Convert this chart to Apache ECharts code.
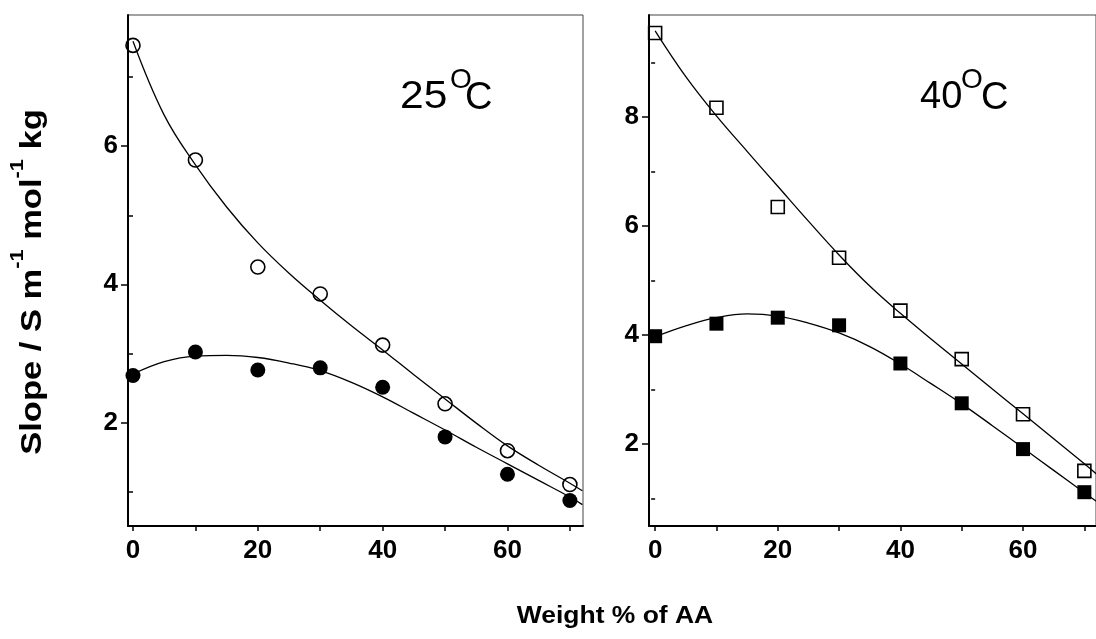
<!DOCTYPE html>
<html>
<head>
<meta charset="utf-8">
<script src="https://cdn.jsdelivr.net/npm/echarts@6/dist/echarts.min.js"></script>
<style>
html,body{margin:0;padding:0;background:#fff;}
#c{width:1096px;height:639px;}
</style>
</head>
<body>
<div id="c"></div>
<script>
// ---- data ----
var weightPct = [0, 10, 20, 30, 40, 50, 60, 70];
// 25 °C
var open25 = [7.46, 5.80, 4.25, 3.86, 3.12, 2.27, 1.59, 1.10];
var filled25 = [2.68, 3.02, 2.76, 2.79, 2.51, 1.79, 1.25, 0.87];
// fitted curves, read at x = 0, 5, ..., 70, 72
var fitX = [0, 5, 10, 15, 20, 25, 30, 35, 40, 45, 50, 55, 60, 65, 70, 72];
var fitOpen25 = [7.52, 6.45, 5.73, 5.12, 4.60, 4.16, 3.77, 3.40, 3.05, 2.69, 2.34, 1.99, 1.66, 1.38, 1.12, 1.01];
var fitFilled25 = [2.70, 2.88, 2.96, 2.97, 2.94, 2.86, 2.75, 2.58, 2.37, 2.13, 1.89, 1.64, 1.40, 1.16, 0.92, 0.81];
// 40 °C
var open40 = [9.54, 8.17, 6.35, 5.42, 4.45, 3.56, 2.55, 1.51];
var filled40 = [3.98, 4.21, 4.32, 4.18, 3.48, 2.75, 1.91, 1.12];
var fitOpen40 = [9.58, 8.74, 8.02, 7.37, 6.73, 6.09, 5.47, 4.90, 4.40, 3.93, 3.47, 3.01, 2.56, 2.10, 1.64, 1.45];
var fitFilled40 = [3.97, 4.17, 4.32, 4.39, 4.35, 4.22, 4.04, 3.79, 3.47, 3.11, 2.74, 2.34, 1.93, 1.52, 1.11, 0.95];
// ticks
var xMajorLabels = [0, 20, 40, 60];
var xTicks = [0, 10, 20, 30, 40, 50, 60, 70];
var yLabels25 = [2, 4, 6];
var yMinor25 = [1, 3, 5, 7];
var yLabels40 = [2, 4, 6, 8];
var yMinor40 = [1, 3, 5, 7, 9];
// texts
var xTitle = 'Weight % of AA';
var panelTitles = ['25', '40'];

function pairs(xs, ys){ return xs.map(function(x,i){ return [x, ys[i]]; }); }

var FONT = 'Liberation Sans, Arial, sans-serif';
var black = '#000';

function xAxisDef(g, min, max){
  return {
    gridIndex: g, type: 'value', min: min, max: max,
    axisLine: {show: true, onZero: false, lineStyle: {color: black, width: 2}},
    axisTick: {show: true, customValues: xTicks, length: 5, lineStyle: {color: black, width: 1.5}},
    axisLabel: {show: true, customValues: xMajorLabels, margin: 12, color: black,
      fontFamily: FONT, fontWeight: 'bold', fontSize: 26},
    splitLine: {show: false}
  };
}
function yAxisDef(g, min, max, labels){
  return {
    gridIndex: g, type: 'value', min: min, max: max,
    axisLine: {show: true, onZero: false, lineStyle: {color: black, width: 2}},
    axisTick: {show: true, customValues: labels, length: 7, lineStyle: {color: black, width: 1.5}},
    axisLabel: {show: true, customValues: labels, margin: 10, color: black,
      fontFamily: FONT, fontWeight: 'bold', fontSize: 26},
    splitLine: {show: false}
  };
}
function yMinorDef(g, min, max, ticks){
  return {
    gridIndex: g, type: 'value', min: min, max: max, position: 'left',
    axisLine: {show: false},
    axisTick: {show: true, customValues: ticks, length: 4, lineStyle: {color: black, width: 1.5}},
    axisLabel: {show: false},
    splitLine: {show: false}
  };
}
function scatter(xi, yi, data, symbol, size, filled){
  return {
    type: 'scatter', xAxisIndex: xi, yAxisIndex: yi, data: data,
    symbol: symbol, symbolSize: size, z: 3,
    itemStyle: filled ? {color: black, opacity: 1} : {color: 'rgba(0,0,0,0)', borderColor: black, borderWidth: 1.6, opacity: 1},
    emphasis: {disabled: true}
  };
}
function curve(xi, yi, data){
  return {
    type: 'line', xAxisIndex: xi, yAxisIndex: yi, data: data,
    showSymbol: false, symbol: 'none', smooth: 0.4, z: 2,
    lineStyle: {color: black, width: 1.3},
    emphasis: {disabled: true}
  };
}
function titleTexts(xd, digitScale, xo, xc, label){
  return [
    {type: 'text', x: xd, y: 98, scaleX: digitScale, z: 10,
      style: {text: label, textAlign: 'left', textVerticalAlign: 'middle', fontFamily: FONT, fontSize: 38, fill: black}},
    {type: 'text', x: xo, y: 80, z: 10,
      style: {text: 'O', textAlign: 'left', textVerticalAlign: 'middle', fontFamily: FONT, fontSize: 28, fill: black}},
    {type: 'text', x: xc, y: 99, z: 10,
      style: {text: 'C', textAlign: 'left', textVerticalAlign: 'middle', fontFamily: FONT, fontSize: 38, fill: black}}
  ];
}

var chart = echarts.init(document.getElementById('c'), null, {renderer: 'canvas'});
var graphics = [
  {
    type: 'text', x: 28, y: 282, rotation: Math.PI / 2, scaleX: 1.15, z: 10,
    style: {
      text: '{t|Slope / S m}{s|-1}{t| mol}{s|-1}{t| kg}',
      textAlign: 'center', textVerticalAlign: 'middle',
      rich: {
        t: {fontFamily: FONT, fontWeight: 'bold', fontSize: 30, lineHeight: 40, verticalAlign: 'bottom', fill: black},
        s: {fontFamily: FONT, fontWeight: 'bold', fontSize: 19, lineHeight: 19, verticalAlign: 'top', fill: black}
      }
    }
  },
  {
    type: 'text', x: 615, y: 628, scaleX: 1.15, z: 10,
    style: {
      text: xTitle, textAlign: 'center', textVerticalAlign: 'bottom',
      fontFamily: FONT, fontWeight: 'bold', fontSize: 23, fill: black
    }
  }
].concat(titleTexts(400, 1.12, 450, 465, panelTitles[0]))
 .concat(titleTexts(920, 1.0, 961, 981, panelTitles[1]));

var option = {
  animation: false,
  backgroundColor: '#fff',
  grid: [
    {left: 128, top: 15, width: 455, height: 511, show: true, borderColor: '#444', borderWidth: 1, backgroundColor: 'transparent'},
    {left: 649, top: 15, width: 455, height: 511, show: true, borderColor: '#444', borderWidth: 1, backgroundColor: 'transparent'}
  ],
  xAxis: [xAxisDef(0, -0.8, 72.1), xAxisDef(1, -1, 71.9)],
  yAxis: [
    yAxisDef(0, 0.5, 7.9, yLabels25),
    yMinorDef(0, 0.5, 7.9, yMinor25),
    yAxisDef(1, 0.5, 9.87, yLabels40),
    yMinorDef(1, 0.5, 9.87, yMinor40)
  ],
  series: [
    curve(0, 0, pairs(fitX, fitOpen25)),
    curve(0, 0, pairs(fitX, fitFilled25)),
    scatter(0, 0, pairs(weightPct, open25), 'circle', 14, false),
    scatter(0, 0, pairs(weightPct, filled25), 'circle', 15, true),
    curve(1, 2, pairs(fitX, fitOpen40)),
    curve(1, 2, pairs(fitX, fitFilled40)),
    scatter(1, 2, pairs(weightPct, open40), 'rect', 13, false),
    scatter(1, 2, pairs(weightPct, filled40), 'rect', 14, true)
  ],
  graphic: graphics
};
chart.setOption(option);
</script>
</body>
</html>
